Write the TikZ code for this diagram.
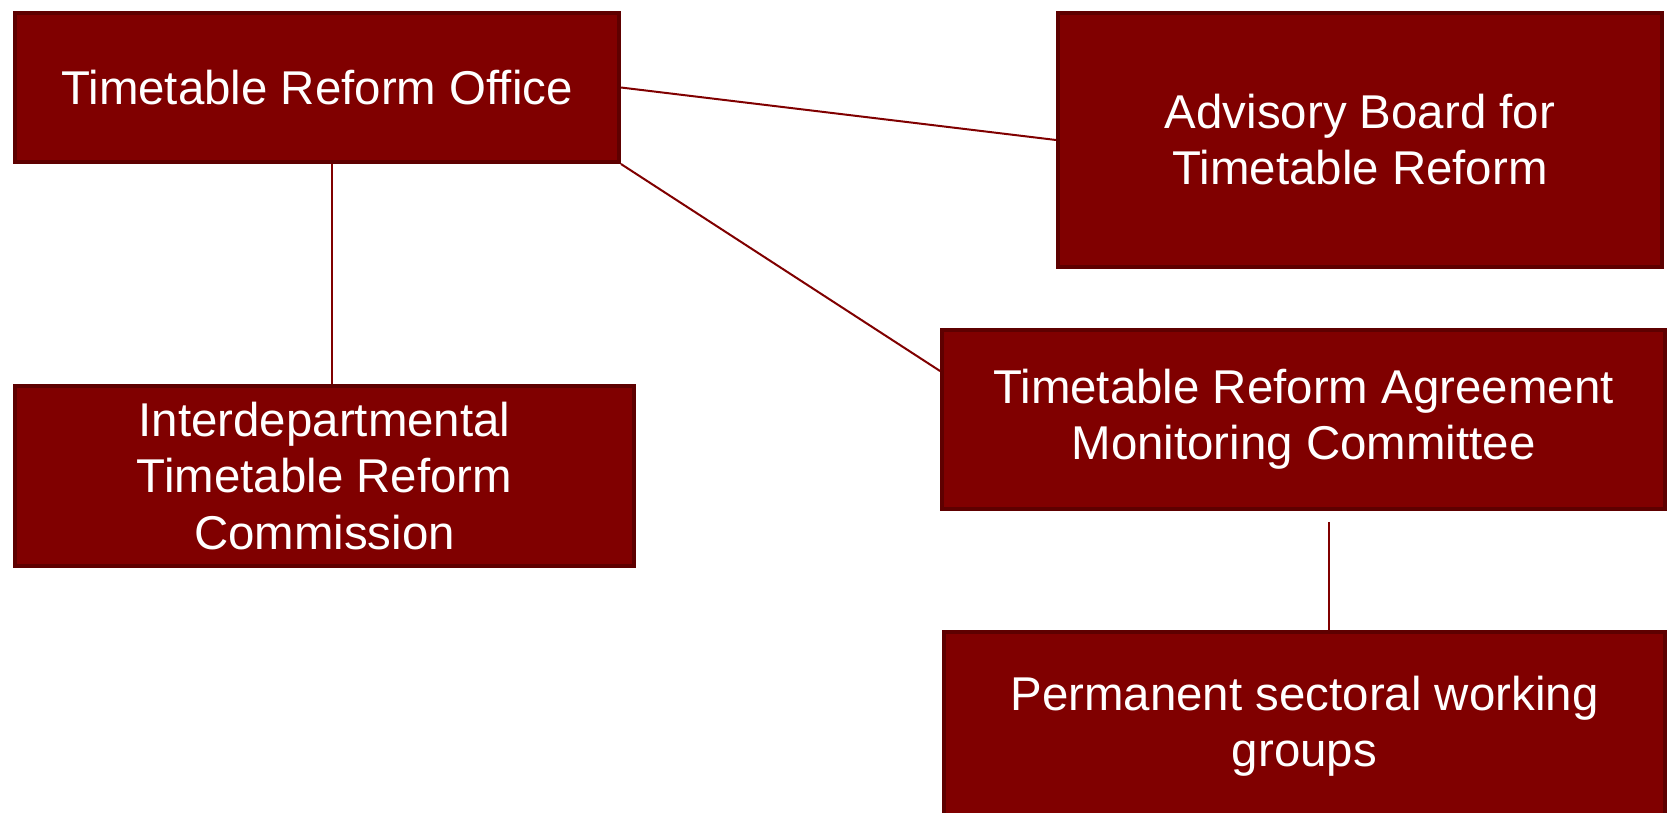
\documentclass[tikz,border=0pt]{standalone}
\usepackage{fontspec}
\setmainfont{Liberation Sans}
\definecolor{boxred}{HTML}{800000}
\definecolor{boxedge}{HTML}{5E0000}
\tikzset{
  orgbox/.style = {rectangle, fill=boxred, draw=boxedge, line width=0.08cm,
    inner sep=0pt, align=center, text=white,
    font=\fontsize{27pt}{31.9pt}\selectfont},
  link/.style = {draw=boxred, line width=0.04cm}
}

\begin{document}
\begin{tikzpicture}[x = 0.02cm, y = -0.02cm]
    \useasboundingbox (0,0) rectangle (1669,812);
    \node [orgbox, minimum width=12.08cm, minimum height=2.98cm] (office) at (317,87.5) {Timetable Reform Office};
    \node [orgbox, minimum width=12.08cm, minimum height=5.08cm] (advisory) at (1360,140) {Advisory Board for\\Timetable Reform};
    \node [orgbox, minimum width=12.38cm, minimum height=3.6cm] (interdep) at (324.5,476) {Interdepartmental\\Timetable Reform\\Commission};
    \node [orgbox, minimum width=14.46cm, minimum height=3.58cm] (monitor) at (1303.5,419.5) {Timetable Reform Agreement\\Monitoring Committee};
    \node [orgbox, minimum width=14.42cm, minimum height=3.76cm] (working) at (1304.5,726) {Permanent sectoral working\\groups};
    \coordinate (officedrop) at ([xshift=0.3cm]office.south);
    \coordinate (monitordrop) at ([xshift=0.5cm]monitor.south);
    \draw [link] (office.east) -- (advisory.west);
    \draw [link] (office.south east) -- ([yshift=0.97cm]monitor.west);
    \draw [link] (officedrop) -- (officedrop |- interdep.north);
    \draw [link] ([yshift=-0.22cm]monitordrop) -- (monitordrop |- working.north);
  \end{tikzpicture}
\end{document}
